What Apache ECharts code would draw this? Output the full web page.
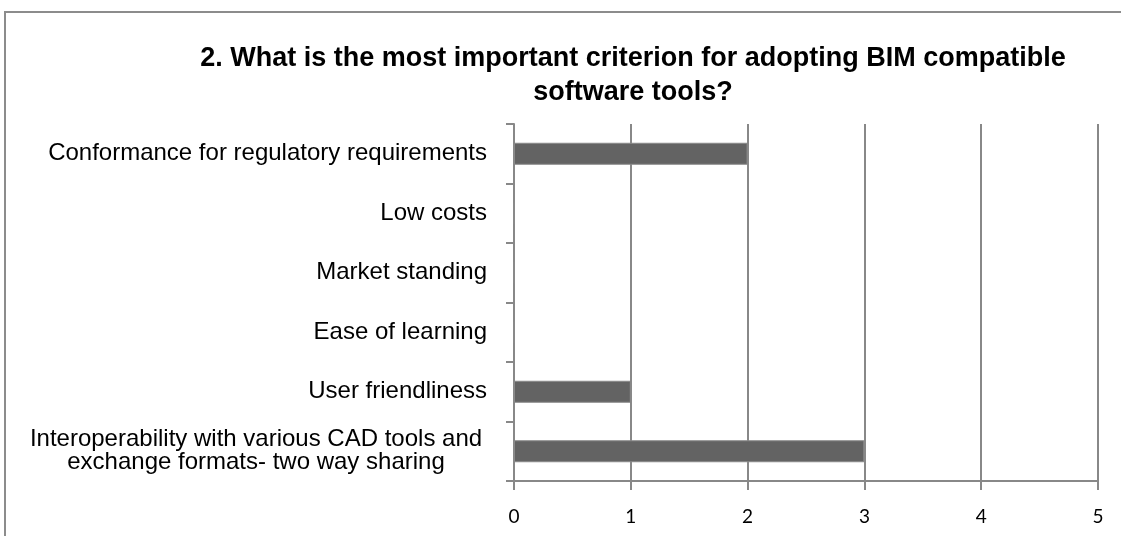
<!DOCTYPE html>
<html>
<head>
<meta charset="utf-8">
<script src="https://cdn.jsdelivr.net/npm/echarts@6/dist/echarts.min.js"></script>
<style>
  html, body { margin: 0; padding: 0; background: #fff; }
  #chart { width: 1121px; height: 536px; }
</style>
</head>
<body>
<div id="chart"></div>
<script>
var categories = [
    'Interoperability with various CAD tools and\nexchange formats- two way sharing',
    'User friendliness',
    'Ease of learning',
    'Market standing',
    'Low costs',
    'Conformance for regulatory requirements'
];
var values = [3, 1, 0, 0, 0, 2];
var xTicks = [0, 1, 2, 3, 4, 5];

var chart = echarts.init(document.getElementById('chart'), null, {renderer: 'canvas'});

function labelFormatter(value) {
    if (value.indexOf('\n') >= 0) {
        // two-line label, lines centred on each other
        return value.split('\n').map(function (s) { return '{c|' + s + '}'; }).join('\n');
    }
    return value;
}

chart.setOption({
    animation: false,
    title: {
        text: '2. What is the most important criterion for adopting BIM compatible\nsoftware tools?',
        left: 628,
        top: 37,
        textAlign: 'center',
        textStyle: {
            fontFamily: 'Liberation Sans',
            fontWeight: 'bold',
            fontSize: 27,
            lineHeight: 34,
            color: '#000'
        }
    },
    graphic: [{
        type: 'rect',
        shape: {x: 5, y: 12, width: 1300, height: 700},
        style: {fill: 'none', stroke: '#8c8c8c', lineWidth: 2},
        silent: true
    }],
    grid: {left: 514, right: 23, top: 124, bottom: 55},
    xAxis: {
        type: 'value',
        min: xTicks[0],
        max: xTicks[xTicks.length - 1],
        interval: 1,
        axisLine: {show: true, lineStyle: {color: '#888', width: 2}},
        axisTick: {show: true, length: 9, lineStyle: {color: '#888', width: 2}},
        splitLine: {show: true, lineStyle: {color: '#888', width: 2}},
        axisLabel: {
            fontFamily: 'Lato',
            fontSize: 19,
            color: '#000',
            margin: 26
        }
    },
    yAxis: {
        type: 'category',
        data: categories,
        axisLine: {show: true, lineStyle: {color: '#888', width: 2}},
        axisTick: {show: true, length: 8, lineStyle: {color: '#888', width: 2}},
        axisLabel: {
            fontFamily: 'Liberation Sans',
            fontSize: 24,
            color: '#000',
            margin: 27,
            lineHeight: 23,
            formatter: labelFormatter,
            rich: {
                c: {
                    fontFamily: 'Liberation Sans',
                    fontSize: 24,
                    lineHeight: 23,
                    width: 462,
                    align: 'center',
                    color: '#000'
                }
            }
        }
    },
    series: [{
        type: 'bar',
        data: values,
        barWidth: 22,
        itemStyle: {color: '#636363', borderColor: '#8a8a8a', borderWidth: 1}
    }]
});
</script>
</body>
</html>
